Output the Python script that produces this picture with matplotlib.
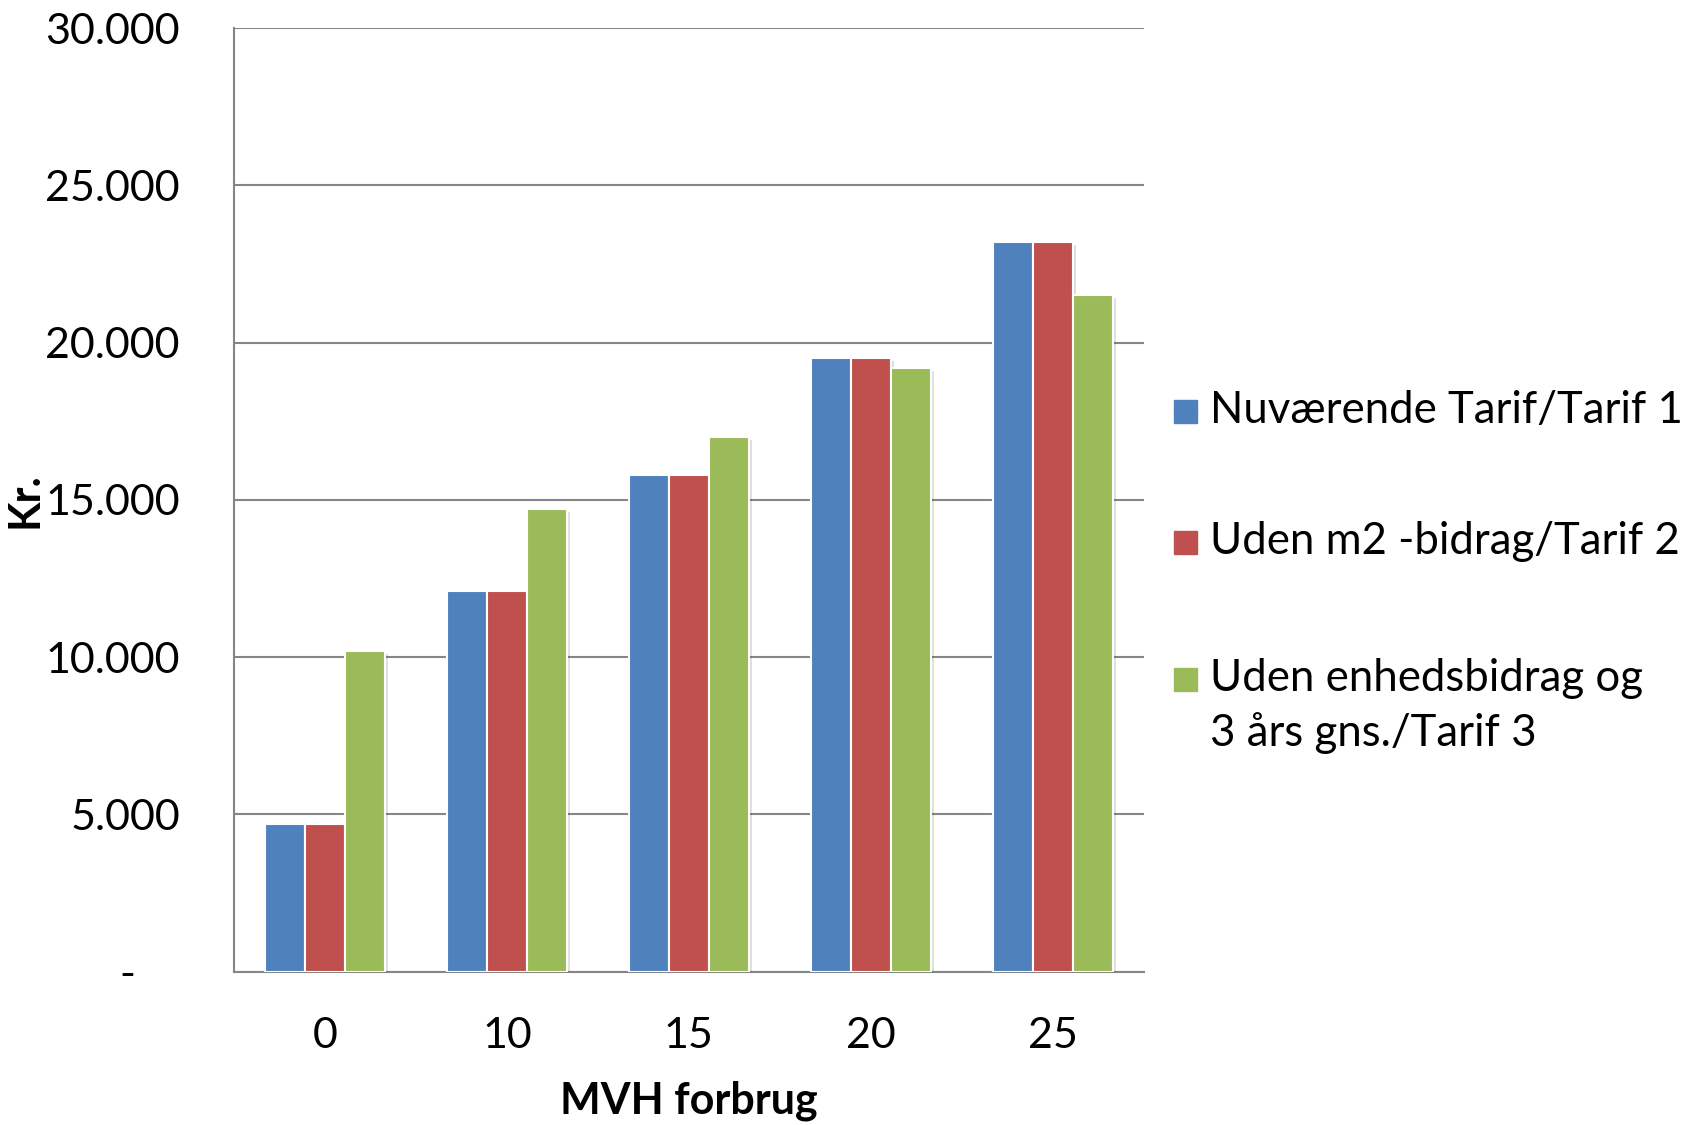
import matplotlib
matplotlib.use("Agg")
import matplotlib.pyplot as plt
import matplotlib.patheffects as pe
from matplotlib.patches import Rectangle
from matplotlib.ticker import FuncFormatter
import numpy as np

categories = ["0", "10", "15", "20", "25"]
tarif1 = [4700, 12100, 15800, 19500, 23200]
tarif2 = [4700, 12100, 15800, 19500, 23200]
tarif3 = [10200, 14700, 17000, 19200, 21500]
series_names = ["Nuværende Tarif/Tarif 1",
                "Uden m2 -bidrag/Tarif 2",
                "Uden enhedsbidrag og\n3 års gns./Tarif 3"]
colors = ["#4F81BD", "#C0504D", "#9BBB59"]


def fmt(v, pos):
    if v == 0:
        return "-    "
    return f"{int(v):,}".replace(",", ".")


def main():
    plt.rcParams['font.family'] = ['Lato', 'DejaVu Sans']
    W, H = 1702, 1125
    fig = plt.figure(figsize=(W / 100, H / 100), dpi=100)
    ax = fig.add_axes([0.1375, 0.1364, 0.5345, 0.8386])

    x = np.arange(len(categories))
    w = 0.22
    shadow = [pe.SimplePatchShadow(offset=(2, -2), alpha=0.15), pe.Normal()]
    for i, vals in enumerate([tarif1, tarif2, tarif3]):
        b = ax.bar(x + (i - 1) * w, vals, w, color=colors[i],
                   edgecolor="white", linewidth=1.5, zorder=3)
        for p in b:
            p.set_path_effects(shadow)

    ax.set_xlim(-0.5, 4.5)
    ax.set_ylim(0, 30000)
    ax.set_yticks(np.arange(0, 30001, 5000))
    ax.yaxis.set_major_formatter(FuncFormatter(fmt))
    ax.set_xticks(x)
    ax.set_xticklabels(categories)
    ax.grid(axis="y", color="#868686", linewidth=1.5, zorder=0)
    for s in ["top", "right"]:
        ax.spines[s].set_visible(False)
    for s in ["left", "bottom"]:
        ax.spines[s].set_color("#868686")
        ax.spines[s].set_linewidth(1.5)
    ax.tick_params(axis="y", labelsize=31, length=0, pad=39)
    ax.tick_params(axis="x", labelsize=31, length=0, pad=33)

    ax.set_xlabel("MVH forbrug", fontsize=31, fontweight="bold", labelpad=18)
    ax.set_ylabel("Kr.", fontsize=31, fontweight="bold")
    ax.yaxis.set_label_coords(-0.208, 0.5)

    # legend drawn by hand: marker sits at first text line like in the original
    legend_y = [412, 543, 680]
    for i, name in enumerate(series_names):
        y = legend_y[i]
        fig.patches.append(Rectangle((1174 / W, 1 - (y + 11) / H), 23 / W, 23 / H,
                                     transform=fig.transFigure, color=colors[i],
                                     figure=fig))
        fig.text(1210 / W, 1 - (y - 22) / H, name, fontsize=31.5,
                 va="top", ha="left", linespacing=1.38)

    fig.savefig("out.png", dpi=100)


if __name__ == '__main__':
    main()
